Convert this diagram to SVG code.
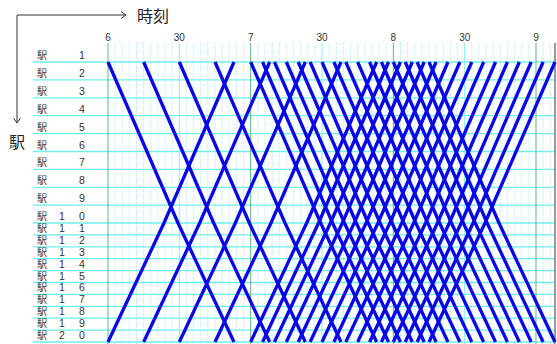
<svg xmlns="http://www.w3.org/2000/svg" width="557" height="344" viewBox="0 0 557 344">
<style>
.lbl{font-family:"Noto Sans CJK JP","Liberation Sans",sans-serif;font-size:10px;fill:#333}
.num{font-family:"Liberation Sans","Noto Sans",sans-serif;font-size:10.5px;fill:#333;text-anchor:middle}
.tm{font-family:"Liberation Sans",sans-serif;font-size:10px;fill:#333;text-anchor:middle}
.ax{font-family:"Noto Sans CJK JP",sans-serif;font-size:16px;fill:#222}
.row{stroke:#70eeee;stroke-width:1.3}
.minor{stroke:#a8f0f4;stroke-width:1;stroke-dasharray:1 1}
.half{stroke:#80f2f2;stroke-width:1}
.hour{stroke:#5cb584;stroke-width:1}
.train{fill:none;stroke:#0808e6;stroke-width:3.3}
.axis{fill:none;stroke:#333;stroke-width:1}
</style>
<defs>
<g id="minors">
<line class="minor" x1="7.13" y1="43" x2="7.13" y2="344"/>
<line class="minor" x1="14.27" y1="43" x2="14.27" y2="344"/>
<line class="minor" x1="21.4" y1="43" x2="21.4" y2="344"/>
<line class="minor" x1="28.53" y1="43" x2="28.53" y2="344"/>
<line class="minor" x1="35.67" y1="43" x2="35.67" y2="344"/>
<line class="minor" x1="42.8" y1="43" x2="42.8" y2="344"/>
<line class="minor" x1="49.93" y1="43" x2="49.93" y2="344"/>
<line class="minor" x1="57.07" y1="43" x2="57.07" y2="344"/>
<line class="minor" x1="64.2" y1="43" x2="64.2" y2="344"/>
</g>
<path id="dn" d="M0,62 L70,223 L126,342"/>
<path id="up" d="M0,342 L56,223 L126,62"/>
<clipPath id="gc"><rect x="0" y="0" width="555" height="344"/></clipPath>
</defs>
<rect width="557" height="344" fill="#fff"/>

<g id="axes">
<polyline class="axis" points="17,123 17,15 126,15"/>
<polyline class="axis" points="121,11.5 126,15 121,18.5"/>
<polyline class="axis" points="13.5,118 17,123 20.5,118"/>
<text class="ax" x="137" y="22">時刻</text>
<text class="ax" x="9" y="148">駅</text>
</g>

<g id="grid" clip-path="url(#gc)">
<use href="#minors" x="108"/>
<use href="#minors" x="179.33"/>
<use href="#minors" x="250.67"/>
<use href="#minors" x="322"/>
<use href="#minors" x="393.33"/>
<use href="#minors" x="464.67"/>
<use href="#minors" x="536"/>
<line class="row" x1="33" y1="62" x2="555" y2="62"/>
<line class="row" x1="33" y1="79.9" x2="555" y2="79.9"/>
<line class="row" x1="33" y1="97.8" x2="555" y2="97.8"/>
<line class="row" x1="33" y1="115.7" x2="555" y2="115.7"/>
<line class="row" x1="33" y1="133.6" x2="555" y2="133.6"/>
<line class="row" x1="33" y1="151.5" x2="555" y2="151.5"/>
<line class="row" x1="33" y1="169.4" x2="555" y2="169.4"/>
<line class="row" x1="33" y1="187.3" x2="555" y2="187.3"/>
<line class="row" x1="33" y1="205.2" x2="555" y2="205.2"/>
<line class="row" x1="33" y1="223" x2="555" y2="223"/>
<line class="row" x1="33" y1="234.9" x2="555" y2="234.9"/>
<line class="row" x1="33" y1="246.8" x2="555" y2="246.8"/>
<line class="row" x1="33" y1="258.7" x2="555" y2="258.7"/>
<line class="row" x1="33" y1="270.6" x2="555" y2="270.6"/>
<line class="row" x1="33" y1="282.5" x2="555" y2="282.5"/>
<line class="row" x1="33" y1="294.4" x2="555" y2="294.4"/>
<line class="row" x1="33" y1="306.3" x2="555" y2="306.3"/>
<line class="row" x1="33" y1="318.2" x2="555" y2="318.2"/>
<line class="row" x1="33" y1="330.1" x2="555" y2="330.1"/>
<line class="row" x1="33" y1="342" x2="555" y2="342"/>
<line class="half" x1="179.33" y1="43" x2="179.33" y2="344"/>
<line class="half" x1="322" y1="43" x2="322" y2="344"/>
<line class="half" x1="464.67" y1="43" x2="464.67" y2="344"/>
<line class="hour" x1="108" y1="43" x2="108" y2="344"/>
<line class="hour" x1="250.67" y1="43" x2="250.67" y2="344"/>
<line class="hour" x1="393.33" y1="43" x2="393.33" y2="344"/>
<line class="hour" x1="536" y1="43" x2="536" y2="344"/>
</g>
<line x1="555" y1="43" x2="555" y2="344" stroke="#999" stroke-width="2"/>

<g id="timeLabels">
<text class="tm" x="108" y="40.5">6</text>
<text class="tm" x="179.3" y="40.5">30</text>
<text class="tm" x="250.7" y="40.5">7</text>
<text class="tm" x="322" y="40.5">30</text>
<text class="tm" x="393.3" y="40.5">8</text>
<text class="tm" x="464.7" y="40.5">30</text>
<text class="tm" x="536" y="40.5">9</text>
</g>

<g id="stationLabels">
<g id="st1"><text class="lbl" x="37" y="59">駅</text><text class="num" x="82" y="59">1</text></g>
<g id="st2"><text class="lbl" x="37" y="76.9">駅</text><text class="num" x="82" y="76.9">2</text></g>
<g id="st3"><text class="lbl" x="37" y="94.8">駅</text><text class="num" x="82" y="94.8">3</text></g>
<g id="st4"><text class="lbl" x="37" y="112.7">駅</text><text class="num" x="82" y="112.7">4</text></g>
<g id="st5"><text class="lbl" x="37" y="130.6">駅</text><text class="num" x="82" y="130.6">5</text></g>
<g id="st6"><text class="lbl" x="37" y="148.5">駅</text><text class="num" x="82" y="148.5">6</text></g>
<g id="st7"><text class="lbl" x="37" y="166.4">駅</text><text class="num" x="82" y="166.4">7</text></g>
<g id="st8"><text class="lbl" x="37" y="184.3">駅</text><text class="num" x="82" y="184.3">8</text></g>
<g id="st9"><text class="lbl" x="37" y="202.2">駅</text><text class="num" x="82" y="202.2">9</text></g>
<g id="st10"><text class="lbl" x="37" y="220">駅</text><text class="num" x="62" y="220">1</text><text class="num" x="82" y="220">0</text></g>
<g id="st11"><text class="lbl" x="37" y="231.9">駅</text><text class="num" x="62" y="231.9">1</text><text class="num" x="82" y="231.9">1</text></g>
<g id="st12"><text class="lbl" x="37" y="243.8">駅</text><text class="num" x="62" y="243.8">1</text><text class="num" x="82" y="243.8">2</text></g>
<g id="st13"><text class="lbl" x="37" y="255.7">駅</text><text class="num" x="62" y="255.7">1</text><text class="num" x="82" y="255.7">3</text></g>
<g id="st14"><text class="lbl" x="37" y="267.6">駅</text><text class="num" x="62" y="267.6">1</text><text class="num" x="82" y="267.6">4</text></g>
<g id="st15"><text class="lbl" x="37" y="279.5">駅</text><text class="num" x="62" y="279.5">1</text><text class="num" x="82" y="279.5">5</text></g>
<g id="st16"><text class="lbl" x="37" y="291.4">駅</text><text class="num" x="62" y="291.4">1</text><text class="num" x="82" y="291.4">6</text></g>
<g id="st17"><text class="lbl" x="37" y="303.3">駅</text><text class="num" x="62" y="303.3">1</text><text class="num" x="82" y="303.3">7</text></g>
<g id="st18"><text class="lbl" x="37" y="315.2">駅</text><text class="num" x="62" y="315.2">1</text><text class="num" x="82" y="315.2">8</text></g>
<g id="st19"><text class="lbl" x="37" y="327.1">駅</text><text class="num" x="62" y="327.1">1</text><text class="num" x="82" y="327.1">9</text></g>
<g id="st20"><text class="lbl" x="37" y="339">駅</text><text class="num" x="62" y="339">2</text><text class="num" x="82" y="339">0</text></g>
</g>

<g id="connectors" class="train">
<use href="#dn" x="108"/><use href="#dn" x="143.67"/><use href="#dn" x="179.33"/><use href="#dn" x="215"/>
<use href="#dn" x="250.67"/><use href="#dn" x="262.56"/><use href="#dn" x="274.44"/><use href="#dn" x="286.33"/>
<use href="#dn" x="298.22"/><use href="#dn" x="310.11"/><use href="#dn" x="322"/><use href="#dn" x="333.89"/>
<use href="#dn" x="345.78"/><use href="#dn" x="357.67"/><use href="#dn" x="369.56"/><use href="#dn" x="381.44"/>
<use href="#dn" x="393.33"/><use href="#dn" x="405.22"/><use href="#dn" x="417.11"/><use href="#dn" x="429"/>
<use href="#up" x="108"/><use href="#up" x="143.67"/><use href="#up" x="179.33"/><use href="#up" x="215"/>
<use href="#up" x="250.67"/><use href="#up" x="262.56"/><use href="#up" x="274.44"/><use href="#up" x="286.33"/>
<use href="#up" x="298.22"/><use href="#up" x="310.11"/><use href="#up" x="322"/><use href="#up" x="333.89"/>
<use href="#up" x="345.78"/><use href="#up" x="357.67"/><use href="#up" x="369.56"/><use href="#up" x="381.44"/>
<use href="#up" x="393.33"/><use href="#up" x="405.22"/><use href="#up" x="417.11"/><use href="#up" x="429"/>
</g>
</svg>
